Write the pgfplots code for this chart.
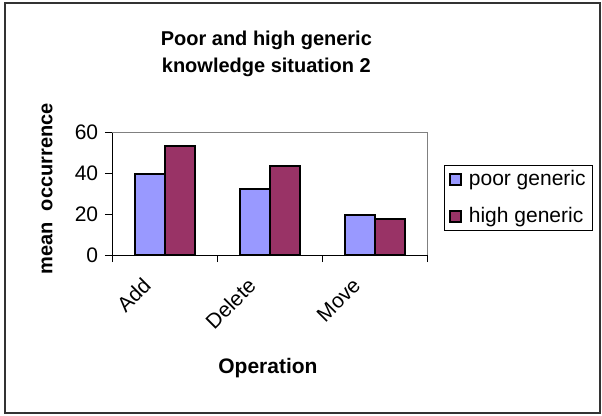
\documentclass[border=0pt]{standalone}
\usepackage{fontspec}
\setmainfont{Liberation Sans}
\usepackage{pgfplots}
\pgfplotsset{compat=1.18}
\definecolor{poor}{HTML}{9999FF}
\definecolor{high}{HTML}{993366}
\begin{document}
\fontsize{20}{24}\selectfont
\begin{tikzpicture}
\useasboundingbox (0,0) rectangle (602pt,415pt);
\draw[line width=1.5pt, draw=black!80] (5pt,2pt) rectangle (600pt,412pt);
\begin{axis}[
  at={(112pt,160pt)}, anchor=south west,
  width=315pt, height=123pt, scale only axis,
  xmin=-0.5, xmax=2.5, ymin=0, ymax=60,
  axis x line*=bottom, axis y line*=left,
  axis line style={-, black, line width=1pt},
  tick align=outside, major tick length=7pt,
  tick style={black, line width=1pt},
  ytick={0,20,40,60},
  xtick={-0.5,0.5,1.5,2.5}, xticklabels={},
  extra x ticks={0,1,2},
  extra x tick labels={Add,Delete,Move},
  extra x tick style={major tick length=0pt,
    xticklabel style={xshift=-23pt, yshift=-12pt, rotate=45, anchor=north east}},
  /pgf/number format/assume math mode=true,
  tick label style={font=\fontsize{21}{25}\selectfont},
  ylabel={mean\ \ occurrence},
  ylabel style={at={(axis description cs:-0.206,0.537)}, anchor=center, font=\bfseries\fontsize{20}{24}\selectfont},
  xlabel={Operation},
  xlabel style={at={(axis description cs:0.495,-0.92)}, anchor=center, font=\bfseries\fontsize{21}{25}\selectfont},
  title={Poor and high generic\\knowledge situation 2},
  title style={at={(axis description cs:0.49,1.585)}, anchor=center, align=center, font=\bfseries\fontsize{20}{27}\selectfont},
  legend style={at={(axis description cs:1.054,0.732)}, anchor=north west, draw=black, line width=0.8pt,
    row sep=15pt, font=\fontsize{21}{25}\selectfont, inner xsep=5pt, inner ysep=3pt,
    /tikz/every odd column/.append style={column sep=5pt}},
  legend cell align=left,
  legend image code/.code={\draw[#1, line width=1.5pt] (0pt,-5.5pt) rectangle (11pt,5.5pt);},
  clip=false,
]
\addplot[ybar, bar width=30pt, bar shift=-15pt, fill=poor, draw=black, line width=2pt]
  coordinates {(0,39.4) (1,32) (2,19.5)};
\addplot[ybar, bar width=30pt, bar shift=15pt, fill=high, draw=black, line width=2pt]
  coordinates {(0,53.3) (1,43.4) (2,17.4)};
\legend{poor generic\hspace{8pt}, high generic\hspace{8pt}}
\draw[gray, line width=1pt] (rel axis cs:0,1) -- (rel axis cs:1,1) -- (rel axis cs:1,0);
\end{axis}
\end{tikzpicture}
\end{document}
